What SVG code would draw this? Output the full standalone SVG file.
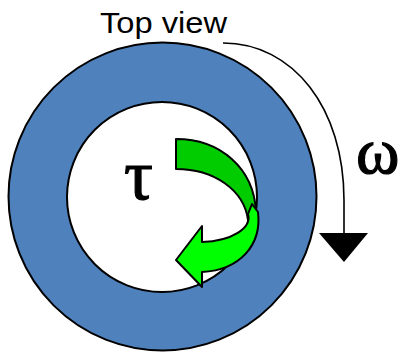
<svg xmlns="http://www.w3.org/2000/svg" width="402" height="354" viewBox="0 0 402 354">
  <style>
    .edge { stroke: #000; stroke-width: 2; stroke-linejoin: round; }
    .label { font-family: "Liberation Sans", Arial, sans-serif; fill: #000; }
    .greek { font-family: "Liberation Serif", "Times New Roman", serif; fill: #000; stroke: #000; stroke-width: 1.2; }
  </style>
  <rect width="402" height="354" fill="#fff"/>
  <g id="ring">
    <circle cx="162.5" cy="196.5" r="154" fill="#4F81BD" class="edge"/>
    <circle cx="162" cy="197" r="95" fill="#fff" class="edge"/>
  </g>
  <g id="torque-arrow">
    <path d="M176,139 C220,139 254,168 256,212 L248,220 C244,190 214,169 176,169 Z" fill="#00CC00" class="edge"/>
    <path d="M252,204 L258,212 C262,245 240,270 202,272 L202,287 L176,260 L202,226 L202,242 C232,241 252,228 248,214 Z" fill="#00FF00" class="edge"/>
  </g>
  <g id="connectors">
    <path d="M223,43 C293,43 344,108 344,200 L344,234" fill="none" stroke="#000" stroke-width="1.6"/>
    <polygon points="319,233 368,233 344,262" fill="#000"/>
  </g>
  <g id="labels">
    <text class="label" x="100" y="33" font-size="30" textLength="127" lengthAdjust="spacingAndGlyphs">Top view</text>
    <text class="greek" x="124" y="199" font-size="72">τ</text>
    <text class="greek" x="356" y="173" font-size="66">ω</text>
  </g>
</svg>
